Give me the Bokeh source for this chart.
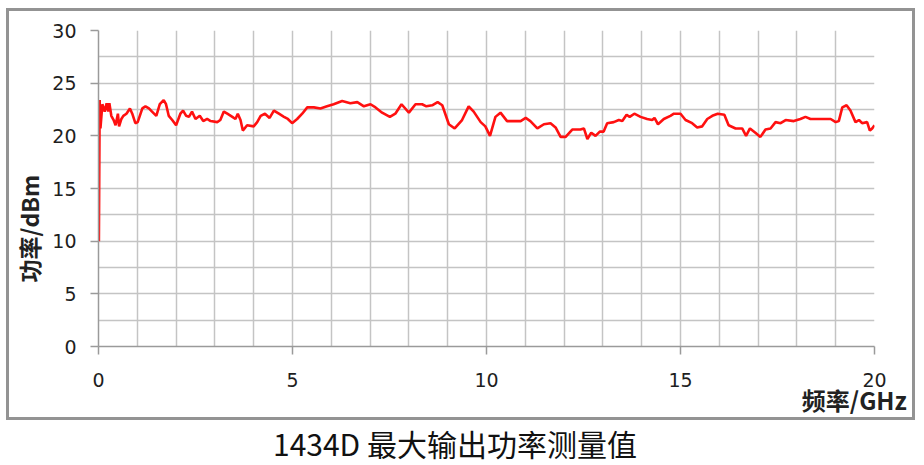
from bokeh.plotting import figure
from bokeh.models import Range1d, FixedTicker, Title, Div
from bokeh.layouts import column
from bokeh.embed import file_html
from bokeh.resources import INLINE

# ---- data ----
freq_ghz = [
    0.01, 0.03, 0.05,
    0.10, 0.16, 0.21, 0.25, 0.28, 0.33, 0.39, 0.44, 0.50, 0.53,
    0.59, 0.64, 0.72, 0.81, 0.87, 0.95, 1.01, 1.13, 1.21, 1.30,
    1.38, 1.49, 1.58, 1.68, 1.74, 1.81, 1.90, 2.00, 2.11, 2.18,
    2.26, 2.33, 2.41, 2.50, 2.61, 2.70, 2.80, 2.89, 3.06, 3.14,
    3.23, 3.32, 3.45, 3.53, 3.59, 3.66, 3.72, 3.83, 4.00, 4.09,
    4.18, 4.29, 4.41, 4.52, 4.65, 4.78, 4.88, 4.99, 5.12, 5.25,
    5.38, 5.55, 5.72, 5.89, 6.06, 6.28, 6.49, 6.67, 6.84, 7.01,
    7.14, 7.31, 7.51, 7.65, 7.81, 8.00, 8.17, 8.34, 8.45, 8.60,
    8.74, 8.86, 9.03, 9.18, 9.37, 9.54, 9.67, 9.85, 9.97, 10.09,
    10.23, 10.36, 10.53, 10.88, 11.01, 11.13, 11.31, 11.48, 11.65, 11.78,
    11.91, 12.04, 12.21, 12.42, 12.51, 12.60, 12.70, 12.81, 12.92, 13.02,
    13.11, 13.28, 13.41, 13.50, 13.61, 13.69, 13.81, 13.97, 14.14, 14.27,
    14.33, 14.42, 14.57, 14.74, 14.83, 15.00, 15.13, 15.30, 15.43, 15.56,
    15.69, 15.82, 15.96, 16.13, 16.24, 16.42, 16.59, 16.69, 16.79, 16.93,
    17.06, 17.19, 17.32, 17.45, 17.58, 17.71, 17.92, 18.09, 18.22, 18.35,
    18.61, 18.87, 19.00, 19.08, 19.17, 19.28, 19.38, 19.51, 19.60, 19.68,
    19.81, 19.88, 19.94, 20.00,
]
power_dbm = [
    10.0, 23.4, 20.7,
    23.0, 22.3, 23.1, 22.3, 23.1, 21.9, 21.5, 21.0, 22.1, 20.9,
    21.6, 21.9, 22.1, 22.6, 22.1, 21.2, 21.3, 22.6, 22.8, 22.6,
    22.3, 21.9, 23.0, 23.4, 23.0, 21.9, 21.5, 21.0, 22.1, 22.4,
    21.9, 21.8, 22.3, 21.6, 21.9, 21.4, 21.6, 21.4, 21.3, 21.5,
    22.3, 22.1, 21.8, 21.6, 22.1, 21.5, 20.5, 21.0, 20.9, 21.3,
    21.9, 22.1, 21.7, 22.4, 22.1, 21.8, 21.6, 21.2, 21.6, 22.1,
    22.7, 22.7, 22.6, 22.8, 23.0, 23.3, 23.1, 23.2, 22.8, 23.0,
    22.7, 22.2, 21.8, 22.1, 23.0, 22.2, 23.0, 23.0, 22.8, 22.9,
    23.2, 22.9, 21.1, 20.7, 21.5, 22.8, 22.3, 21.3, 20.9, 20.0,
    21.8, 22.2, 21.4, 21.4, 21.7, 21.4, 20.7, 21.1, 21.2, 20.8,
    19.9, 19.9, 20.6, 20.6, 20.7, 19.7, 20.3, 20.0, 20.4, 20.4,
    21.2, 21.3, 21.5, 21.4, 22.0, 21.8, 22.1, 21.8, 21.6, 21.5,
    21.7, 21.1, 21.6, 21.9, 22.1, 22.1, 21.5, 21.2, 20.8, 20.9,
    21.6, 21.9, 22.1, 22.0, 21.0, 20.7, 20.7, 20.0, 20.7, 20.3,
    19.9, 20.6, 20.7, 21.3, 21.2, 21.5, 21.4, 21.6, 21.8, 21.6,
    21.6, 21.6, 21.3, 21.4, 22.7, 22.9, 22.4, 21.3, 21.5, 21.2,
    21.3, 20.5, 20.7, 21.0,
]
x_major_ticks = [0, 5, 10, 15, 20]
x_grid_ticks = list(range(0, 21))
y_major_ticks = [0, 5, 10, 15, 20, 25, 30]
y_grid_ticks = [0, 2.5, 5, 7.5, 10, 12.5, 15, 17.5, 20, 22.5, 25, 27.5, 30]
title_text = "1434D 最大输出功率测量值"
x_label_text = "频率/GHz"
y_label_text = "功率/dBm"

p = figure(width=909, height=412, output_backend="svg", toolbar_location=None,
           x_range=Range1d(0, 20), y_range=Range1d(0, 30),
           min_border_left=92, min_border_right=41, min_border_top=22, min_border_bottom=74)
p.styles = {"box-shadow": "inset 0 0 0 3px #939393", "margin-left": "6px", "margin-top": "8px"}
p.outline_line_color = None
p.background_fill_color = "white"
p.border_fill_color = None

grid_color = "#c4c4c4"
p.xgrid.ticker = FixedTicker(ticks=x_grid_ticks)
p.ygrid.ticker = FixedTicker(ticks=y_grid_ticks)
for g in (p.xgrid, p.ygrid):
    g.grid_line_color = grid_color
    g.grid_line_width = 1.5

p.xaxis.ticker = FixedTicker(ticks=x_major_ticks)
p.yaxis.ticker = FixedTicker(ticks=y_major_ticks)
for ax in (p.xaxis, p.yaxis):
    ax.axis_line_color = "#9a9a9a"
    ax.axis_line_width = 1.5
    ax.major_tick_line_color = "#9a9a9a"
    ax.major_tick_line_width = 1.5
    ax.major_tick_in = 0
    ax.major_tick_out = 8
    ax.minor_tick_line_color = None
    ax.major_label_text_font = "DejaVu Sans"
    ax.major_label_text_font_size = "19px"
    ax.major_label_text_color = "#1e1e1e"
p.xaxis.major_label_standoff = 18
p.yaxis.major_label_standoff = 14

p.line(freq_ghz, power_dbm, line_color="#ff1010", line_width=2.6)

p.add_layout(Title(text=x_label_text, align="right", offset=-32, standoff=-19,
                   text_font="Noto Sans CJK SC", text_font_style="bold",
                   text_font_size="24px", text_color="#222222"), "below")
p.add_layout(Title(text=y_label_text, align="left", offset=64, standoff=7,
                   text_font="Noto Sans CJK SC", text_font_style="bold",
                   text_font_size="23px", text_color="#222222"), "left")

title_div = Div(text=title_text, width=924, height=42,
                styles={"font-family": "'Noto Sans CJK SC', sans-serif", "font-size": "30px",
                        "line-height": "36px", "color": "#111111", "text-align": "center",
                        "width": "912px", "padding-right": "12px", "padding-top": "0px"})

layout = column(p, title_div, spacing=0)
open("out.html", "w").write(file_html(layout, INLINE))
